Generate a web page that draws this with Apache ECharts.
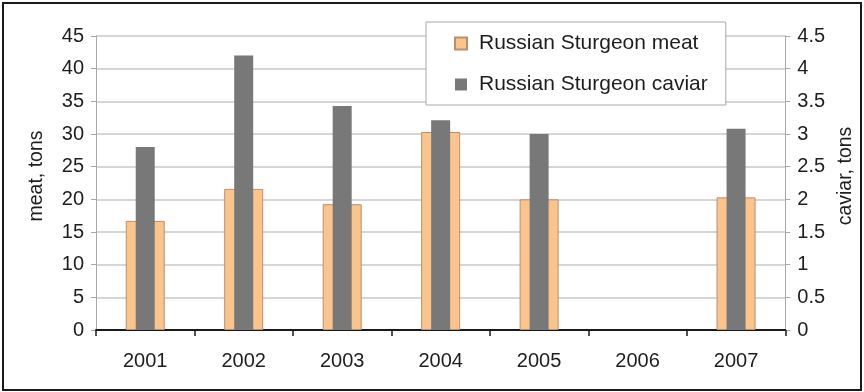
<!DOCTYPE html>
<html>
<head>
<meta charset="utf-8">
<style>
  html, body { margin: 0; padding: 0; background: #fff; }
  #chart { width: 864px; height: 392px; }
</style>
<script src="https://cdn.jsdelivr.net/npm/echarts@6/dist/echarts.min.js"></script>
</head>
<body>
<div id="chart"></div>
<script>
// Annual catch of Russian sturgeon: meat (left axis) and caviar (right axis)
const years = ['2001', '2002', '2003', '2004', '2005', '2006', '2007'];
const meatTons = [16.7, 21.6, 19.25, 30.3, 20.0, null, 20.3];
const caviarTons = [2.8, 4.2, 3.43, 3.21, 3.0, null, 3.08];
const meatName = 'Russian Sturgeon meat';
const caviarName = 'Russian Sturgeon caviar';
const leftAxisName = 'meat, tons';
const rightAxisName = 'caviar, tons';

const FONT = '"Liberation Sans", Arial, Helvetica, sans-serif';
const TEXT = '#1e1e1e';

const chart = echarts.init(document.getElementById('chart'), null, { renderer: 'canvas' });

const valueAxisBase = {
  type: 'value',
  min: 0,
  axisLine: { show: true, lineStyle: { color: '#a8a8a8', width: 1 } },
  axisTick: { show: true, length: 5, lineStyle: { color: '#a8a8a8' } },
  axisLabel: { fontFamily: FONT, fontSize: 20, color: TEXT, margin: 12 },
  nameLocation: 'middle',
  nameRotate: 90,
  // left padding lifts the rotated name a little above the axis centre
  nameTextStyle: { fontFamily: FONT, fontSize: 19.5, color: TEXT, padding: [0, 0, 0, 14] }
};

chart.setOption({
  animation: false,
  backgroundColor: '#ffffff',
  grid: { left: 96, right: 76, top: 36, bottom: 62 },
  legend: {
    orient: 'vertical',
    left: 426,
    top: 22,
    padding: [11, 18, 10, 28],
    itemGap: 20,
    itemWidth: 12,
    itemHeight: 12,
    icon: 'rect',
    backgroundColor: '#ffffff',
    borderColor: '#a9a9a9',
    borderWidth: 1,
    textStyle: { fontFamily: FONT, fontSize: 21, color: TEXT, padding: [0, 0, 0, 7] },
    data: [meatName, caviarName]
  },
  xAxis: [
    {
      type: 'category',
      data: years,
      position: 'bottom',
      boundaryGap: true,
      axisLine: { show: true, lineStyle: { color: '#1a1a1a', width: 2 } },
      axisTick: { show: true, length: 6, alignWithLabel: false, lineStyle: { color: '#1a1a1a', width: 1.5 } },
      axisLabel: { fontFamily: FONT, fontSize: 20, color: TEXT, margin: 21 },
      splitLine: { show: false }
    },
    {
      type: 'category',
      data: years,
      show: false,
      boundaryGap: true
    }
  ],
  yAxis: [
    Object.assign({}, valueAxisBase, {
      position: 'left',
      max: 45,
      interval: 5,
      name: leftAxisName,
      nameGap: 49,
      splitLine: { show: true, lineStyle: { color: '#c9c9c9', width: 1.5 } }
    }),
    Object.assign({}, valueAxisBase, {
      position: 'right',
      max: 4.5,
      interval: 0.5,
      name: rightAxisName,
      nameGap: 47,
      splitLine: { show: false }
    })
  ],
  series: [
    {
      name: meatName,
      type: 'bar',
      xAxisIndex: 0,
      yAxisIndex: 0,
      data: meatTons,
      barWidth: 39,
      itemStyle: { color: '#fac48c', borderColor: '#b89070', borderWidth: 1 }
    },
    {
      name: caviarName,
      type: 'bar',
      xAxisIndex: 1,
      yAxisIndex: 1,
      data: caviarTons,
      barWidth: 19,
      itemStyle: { color: '#787878' }
    }
  ],
  graphic: [
    {
      type: 'rect',
      shape: { x: 3, y: 3, width: 858, height: 387 },
      style: { fill: null, stroke: '#1a1a1a', lineWidth: 2 },
      silent: true,
      z: 100
    }
  ]
});
</script>
</body>
</html>
